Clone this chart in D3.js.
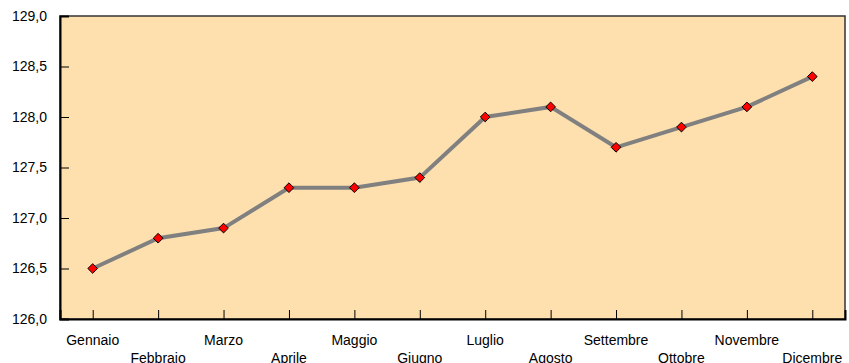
<!DOCTYPE html>
<html>
<head>
<meta charset="utf-8">
<script src="https://cdn.jsdelivr.net/npm/d3@7"></script>
<style>
  body { margin: 0; background: #fff; }
  text { font-family: "Liberation Sans", Arial, sans-serif; font-size: 14px; fill: #000; }
</style>
</head>
<body>
<div id="chart"></div>
<script>
const months = ["Gennaio", "Febbraio", "Marzo", "Aprile", "Maggio", "Giugno",
  "Luglio", "Agosto", "Settembre", "Ottobre", "Novembre", "Dicembre"];
const values = [126.5, 126.8, 126.9, 127.3, 127.3, 127.4, 128.0, 128.1, 127.7, 127.9, 128.1, 128.4];
const yTicks = [126.0, 126.5, 127.0, 127.5, 128.0, 128.5, 129.0];

const width = 849, height = 363;
const plot = { left: 60, right: 845, top: 16, bottom: 319 };

const svg = d3.select("#chart").append("svg")
  .attr("width", width)
  .attr("height", height);

const x = d3.scalePoint().domain(months).range([plot.left, plot.right]).padding(0.5);
const y = d3.scaleLinear().domain([126, 129]).range([plot.bottom, plot.top]);

// plot background
svg.append("rect")
  .attr("x", plot.left).attr("y", plot.top)
  .attr("width", plot.right - plot.left).attr("height", plot.bottom - plot.top)
  .attr("fill", "#fde0ae")
  .attr("stroke", "#333").attr("stroke-width", 1.5);

// y axis
const fmt = d => d3.format(".1f")(d).replace(".", ",");
const yAxis = svg.append("g")
  .attr("transform", `translate(${plot.left},0)`)
  .call(d3.axisRight(y).tickValues(yTicks).tickSize(9).tickFormat(fmt));
yAxis.select(".domain").attr("stroke", "#000").attr("stroke-width", 2);
yAxis.selectAll(".tick line").attr("stroke", "#000").attr("stroke-width", 1);
yAxis.selectAll(".tick text")
  .attr("x", -13).attr("text-anchor", "end").attr("fill", "#000")
  .style("font-size", "14px").style("font-family", '"Liberation Sans", Arial, sans-serif');

// x axis
const xAxis = svg.append("g")
  .attr("transform", `translate(0,${plot.bottom})`)
  .call(d3.axisTop(x).tickSize(9).tickFormat(""));
xAxis.select(".domain").attr("stroke", "#000").attr("stroke-width", 2);
xAxis.selectAll(".tick line").attr("stroke", "#000").attr("stroke-width", 1);

svg.append("g").selectAll("text.xlabel")
  .data(months)
  .join("text")
  .attr("class", "xlabel")
  .attr("x", d => x(d))
  .attr("y", (d, i) => i % 2 === 0 ? plot.bottom + 26 : plot.bottom + 44)
  .attr("text-anchor", "middle")
  .text(d => d);

// line
const line = d3.line().x((d, i) => x(months[i])).y(d => y(d));
svg.append("path")
  .datum(values)
  .attr("d", line)
  .attr("fill", "none")
  .attr("stroke", "#808080")
  .attr("stroke-width", 4);

// markers
const diamond = d3.symbol().type(d3.symbolDiamond2).size(60);
svg.append("g").selectAll("path.marker")
  .data(values)
  .join("path")
  .attr("class", "marker")
  .attr("transform", (d, i) => `translate(${x(months[i])},${y(d)})`)
  .attr("d", diamond)
  .attr("fill", "#ff0000")
  .attr("stroke", "#000")
  .attr("stroke-width", 1);
</script>
</body>
</html>
